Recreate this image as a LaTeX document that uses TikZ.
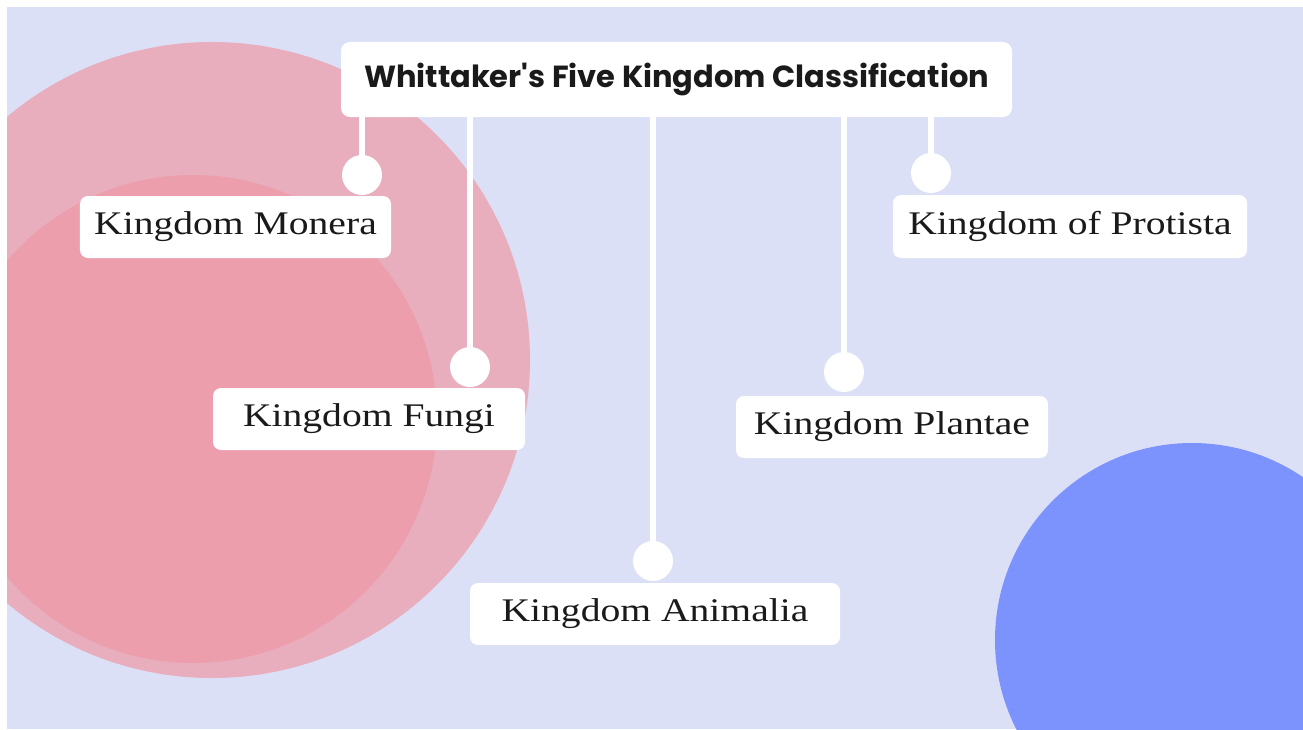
\documentclass[tikz,border=0pt]{standalone}
\usepackage{fontspec}
\setmainfont{Liberation Serif}[FakeStretch=1.2]
\newfontfamily\titlefont{Poppins}
\definecolor{lavender}{HTML}{DCE0F6}
\definecolor{pinkout}{HTML}{E8AEBD}
\definecolor{pinkin}{HTML}{EC9EAC}
\definecolor{bluec}{HTML}{7C92FC}
\definecolor{ink}{HTML}{1A1A1A}
\tikzset{
  kbox/.style={fill=white, rounded corners=8bp, inner sep=0pt, text=ink,
    font=\fontsize{33bp}{36bp}\selectfont, minimum height=62bp},
  tbox/.style={fill=white, rounded corners=9bp, inner sep=0pt, text=ink,
    font=\titlefont\bfseries\fontsize{30.5bp}{34bp}\selectfont, minimum width=671bp, minimum height=75bp},
  dot/.style={circle, fill=white, minimum size=40bp, inner sep=0pt},
  link/.style={draw=white, line width=6bp}
}
\begin{document}
\begin{tikzpicture}[x=1bp,y=-1bp]
\useasboundingbox (0,0) rectangle (1303,729);
\fill[white] (0,0) rectangle (1303,729);
\fill[lavender] (7,7) rectangle (1303,729);
\begin{scope}
\clip (7,7) rectangle (1303,729);
\fill[pinkout] (212,360) circle[radius=318bp];
\fill[pinkin] (193,419) circle[radius=244bp];
\fill[bluec] (1192,640) circle[radius=197bp];
\end{scope}
% title
\node[tbox] (title) at (676.5,79.5) {Whittaker's Five Kingdom Classification};
% dots
\node[dot] (d1) at (362,175) {};
\node[dot] (d2) at (470,367) {};
\node[dot] (d3) at (653,561) {};
\node[dot] (d4) at (844,372) {};
\node[dot] (d5) at (931,173) {};
% links
\foreach \d in {d1,d2,d3,d4,d5}
  \draw[link] (\d.center) -- (\d |- title.south);
% boxes
\node[kbox, minimum width=311bp] (monera) at (235.5,227) {Kingdom Monera};
\node[kbox, minimum width=312bp] (fungi) at (369,419) {Kingdom Fungi};
\node[kbox, minimum width=370bp] (animalia) at (655,614) {Kingdom Animalia};
\node[kbox, minimum width=312bp] (plantae) at (892,427) {Kingdom Plantae};
\node[kbox, minimum width=354bp, minimum height=63bp] (protista) at (1070,226.5) {Kingdom of Protista};
\end{tikzpicture}
\end{document}
